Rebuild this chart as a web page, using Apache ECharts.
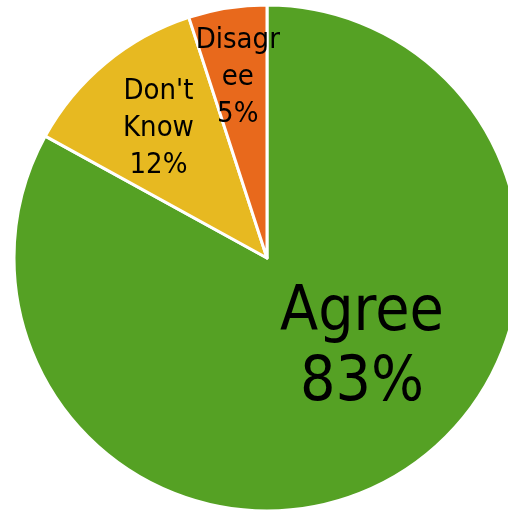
<!DOCTYPE html>
<html>
<head>
<meta charset="utf-8">
<script src="https://cdn.jsdelivr.net/npm/echarts@6/dist/echarts.min.js"></script>
<style>
  html, body { margin: 0; padding: 0; background: #ffffff; }
  #chart { width: 508px; height: 513px; }
</style>
</head>
<body>
<div id="chart"></div>
<script>
// Survey responses, share of respondents (%)
const categories = ['Agree', "Don't Know", 'Disagree'];
const shares = [83, 12, 5];
const labelLines = ['Agree\n83%', "Don't\nKnow\n12%", 'Disagr\nee\n5%'];

const colors = ['#55A124', '#E7B921', '#E8691C'];
const labelSizes = [62, 29, 29];
const labelHeights = [70, 37, 37];
const labelOffsets = [[29, -21], [-26, -30], [-9, -53]];

const data = categories.map((name, i) => ({
  name: name,
  value: shares[i],
  itemStyle: { color: colors[i] },
  label: {
    formatter: labelLines[i],
    fontSize: labelSizes[i],
    lineHeight: labelHeights[i],
    offset: labelOffsets[i]
  }
}));

const chart = echarts.init(document.getElementById('chart'), null, { renderer: 'canvas' });
chart.setOption({
  backgroundColor: '#ffffff',
  animation: false,
  series: [{
    type: 'pie',
    center: [267, 258],
    radius: [0, 253],
    startAngle: 90,
    clockwise: true,
    avoidLabelOverlap: false,
    itemStyle: { borderColor: '#ffffff', borderWidth: 3 },
    label: {
      show: true,
      position: 'inside',
      color: '#000000',
      fontFamily: '"DejaVu Sans Condensed", "DejaVu Sans", sans-serif',
      align: 'center'
    },
    labelLine: { show: false },
    emphasis: { disabled: true },
    data: data
  }]
});
</script>
</body>
</html>
